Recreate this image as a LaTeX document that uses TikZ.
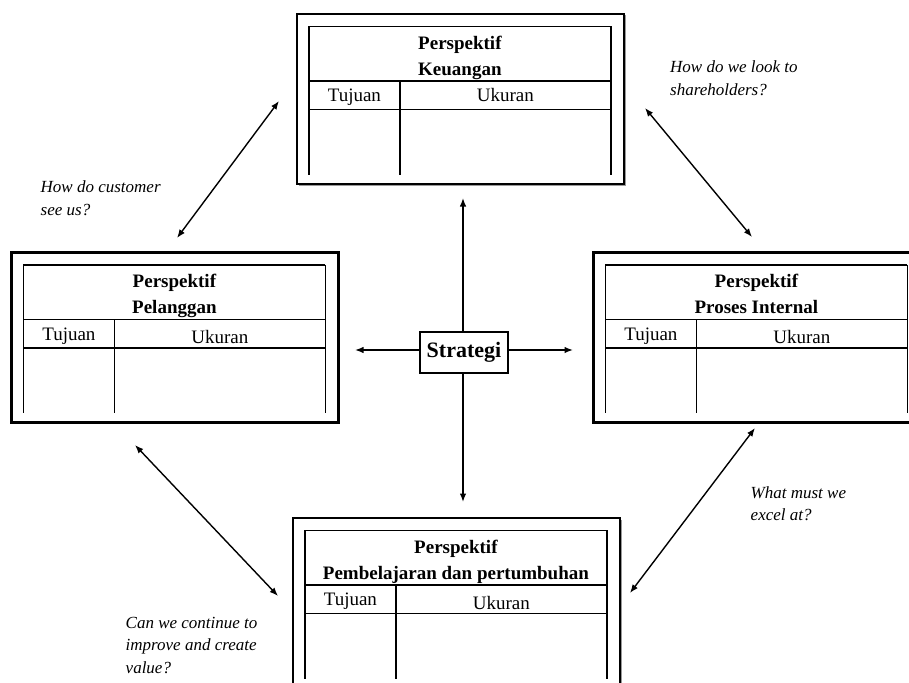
\documentclass[tikz,border=0pt]{standalone}
\usepackage{fontspec}
\setmainfont{Liberation Serif}
\usetikzlibrary{arrows.meta,shadows,calc}
\tikzset{
  frame/.style={draw, line width=2.2pt, fill=white, minimum width=327pt, minimum height=170pt, inner sep=0pt,
    drop shadow={shadow xshift=1.5pt, shadow yshift=-1.5pt, fill=black!40, opacity=1}},
  tline/.style={line width=1.3pt},
  ttitle/.style={font=\fontsize{19}{23}\selectfont\bfseries, anchor=base, inner sep=0pt},
  tcell/.style={font=\fontsize{19}{23}\selectfont, anchor=base, inner sep=0pt},
  qlabel/.style={font=\fontsize{17}{22.5}\selectfont\itshape, align=left, anchor=base west, inner sep=0pt},
  arr/.style={line width=1.4pt, {Latex[length=8.5pt,width=6.5pt]}-{Latex[length=8.5pt,width=6.5pt]}},
  sarr/.style={line width=1.4pt, -{Latex[length=8.5pt,width=6.5pt]}},
  stratbox/.style={draw, line width=1.8pt, fill=white, minimum width=88pt, minimum height=41pt, inner sep=0pt,
    font=\fontsize{22}{26}\selectfont\bfseries}
}
% #1 name, #2 x, #3 y (centre), #4 second title line, #5 extra drop of Ukuran
\newcommand{\perspbox}[5]{%
  \node[frame] (#1) at (#2,#3) {};
  \path (#1.north west) coordinate (#1nw);
  \draw[tline] ($(#1nw)+(13,13.5)$) coordinate (#1tl) -- ($(#1nw)+(315,13.5)$) coordinate (#1tr);
  \draw[tline] ($(#1nw)+(13,68)$) -- ($(#1nw)+(315,68)$);
  \draw[tline] ($(#1nw)+(13,96.5)$) -- ($(#1nw)+(315,96.5)$);
  \draw[tline] (#1tl) -- ($(#1nw)+(13,162)$);
  \draw[tline] (#1tr) -- ($(#1nw)+(315,162)$);
  \draw[tline] ($(#1nw)+(104,68)$) -- ($(#1nw)+(104,162)$);
  \node[ttitle] (#1t1) at ($(#1nw)+(164,36.5)$) {Perspektif};
  \node[ttitle] (#1t2) at ($(#1nw)+(164,62.5)$) {#4};
  \node[tcell] (#1tu) at ($(#1nw)+(58.5,89)$) {Tujuan};
  \node[tcell] (#1uk) at ($(#1nw)+(209.5,89+#5)$) {Ukuran};
}
\begin{document}
\begin{tikzpicture}[x=1pt,y=-1pt]
\useasboundingbox (0,0) rectangle (909,682);
\clip (0,0) rectangle (909,682);
\perspbox{fin}{460.5}{99}{Keuangan}{0}
\perspbox{cus}{175}{337.5}{Pelanggan}{3.5}
\perspbox{int}{757}{337.5}{Proses Internal}{3.5}
\perspbox{lrn}{456.5}{603}{Pembelajaran dan pertumbuhan}{3.5}

\node[stratbox] (str) at (464,352.5) {Strategi};

\coordinate (up) at (463,198);
\coordinate (dn) at (463,502);
\coordinate (lf) at (355,350);
\coordinate (rt) at (573,350);
\draw[sarr] (str.north -| up) -- (up);
\draw[sarr] (str.south -| dn) -- (dn);
\draw[sarr] (str.west |- lf) -- (lf);
\draw[sarr] (str.east |- rt) -- (rt);

\coordinate (a1) at (279,101);
\coordinate (a2) at (177,238);
\coordinate (b1) at (645,108);
\coordinate (b2) at (752,237);
\coordinate (c1) at (135,445);
\coordinate (c2) at (278,596);
\coordinate (d1) at (755,428);
\coordinate (d2) at (630,593);
\draw[arr] (a1) -- (a2);
\draw[arr] (b1) -- (b2);
\draw[arr] (c1) -- (c2);
\draw[arr] (d1) -- (d2);

\node[qlabel] (q1) at (40.5,215) {How do customer\\see us?};
\node[qlabel] (q2) at (670,95.5) {How do we look to\\shareholders?};
\node[qlabel] (q3) at (750.5,520.7) {What must we\\excel at?};
\node[qlabel] (q4) at (125.5,673) {Can we continue to\\improve and create\\value?};
\end{tikzpicture}
\end{document}
